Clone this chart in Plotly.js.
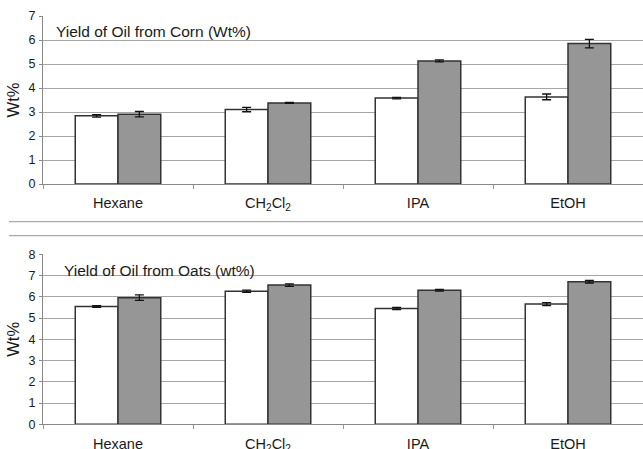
<!DOCTYPE html>
<html>
<head>
<meta charset="utf-8">
<script src="https://cdn.plot.ly/plotly-3.0.1.min.js"></script>
<style>
  html, body { margin: 0; padding: 0; background: #fff; }
  #chart { width: 643px; height: 449px; }
</style>
</head>
<body>
<div id="chart"></div>
<script>
// Solvents used for extraction
const solvents = ["Hexane", "CH<sub>2</sub>Cl<sub>2</sub>", "IPA", "EtOH"];

// Corn: oil yield (wt%) for the two extraction conditions, with error
const cornWhite = [2.84, 3.10, 3.58, 3.63];
const cornWhiteErr = [0.05, 0.09, 0.03, 0.12];
const cornGray = [2.91, 3.38, 5.13, 5.85];
const cornGrayErr = [0.11, 0.02, 0.04, 0.18];

// Oats: oil yield (wt%) for the two extraction conditions, with error
const oatsWhite = [5.54, 6.26, 5.45, 5.66];
const oatsWhiteErr = [0.04, 0.05, 0.05, 0.07];
const oatsGray = [5.96, 6.55, 6.31, 6.71];
const oatsGrayErr = [0.13, 0.06, 0.04, 0.06];

const cornTicks = [0, 1, 2, 3, 4, 5, 6, 7];
const oatsTicks = [0, 1, 2, 3, 4, 5, 6, 7, 8];

const W = 643, H = 449;
const FONT = "Liberation Sans, Arial, sans-serif";
const TEXT = "#1a1a1a";
const GRID = "#a6a6a6";
const EDGE = "#333333";

function bars(y, err, fill, xa, ya) {
  return {
    type: "bar",
    x: solvents,
    y: y,
    xaxis: xa,
    yaxis: ya,
    marker: { color: fill, line: { color: EDGE, width: 1.5 } },
    error_y: { type: "data", array: err, visible: true, color: "#111", thickness: 1.3, width: 4.5 },
    hoverinfo: "skip",
    showlegend: false
  };
}

const traces = [
  bars(cornWhite, cornWhiteErr, "#ffffff", "x", "y"),
  bars(cornGray, cornGrayErr, "#969696", "x", "y"),
  bars(oatsWhite, oatsWhiteErr, "#ffffff", "x2", "y2"),
  bars(oatsGray, oatsGrayErr, "#969696", "x2", "y2")
];

const xLeft = 43 / W;
function py(px) { return 1 - px / H; }

function xAxis(anchor) {
  return {
    domain: [xLeft, 1],
    anchor: anchor,
    type: "category",
    range: [-0.5, 3.5],
    showline: true,
    linecolor: "#888",
    linewidth: 1,
    ticks: "outside",
    tickson: "boundaries",
    ticklen: 4,
    tickcolor: "#999",
    ticklabelstandoff: 6,
    showgrid: false,
    tickfont: { family: FONT, size: 14.5, color: TEXT },
    fixedrange: true
  };
}

function yAxis(anchor, domain, ticks) {
  return {
    domain: domain,
    anchor: anchor,
    range: [0, ticks[ticks.length - 1]],
    tickvals: ticks,
    showline: true,
    linecolor: "#888",
    linewidth: 1,
    ticks: "outside",
    ticklen: 3,
    tickcolor: "#888",
    ticklabelstandoff: 1,
    showgrid: true,
    gridcolor: GRID,
    gridwidth: 1,
    zeroline: false,
    tickfont: { family: FONT, size: 12.5, color: TEXT },
    title: { text: "Wt%", font: { family: FONT, size: 16.5, color: TEXT }, standoff: 4 },
    fixedrange: true
  };
}

const layout = {
  width: W,
  height: H,
  margin: { l: 0, r: 0, t: 0, b: 0 },
  paper_bgcolor: "#fff",
  plot_bgcolor: "#fff",
  barmode: "group",
  bargap: 0.43,
  bargroupgap: 0,
  xaxis: xAxis("y"),
  yaxis: yAxis("x", [py(184), py(16)], cornTicks),
  xaxis2: xAxis("y2"),
  yaxis2: yAxis("x2", [py(424.3), py(254.3)], oatsTicks),
  annotations: [
    { text: "Yield of Oil from Corn (Wt%)", xref: "paper", yref: "paper",
      x: 54 / W, y: py(31.5), xanchor: "left", yanchor: "middle", showarrow: false,
      font: { family: FONT, size: 15.5, color: TEXT } },
    { text: "Yield of Oil from Oats (wt%)", xref: "paper", yref: "paper",
      x: 62 / W, y: py(270), xanchor: "left", yanchor: "middle", showarrow: false,
      font: { family: FONT, size: 15.5, color: TEXT } }
  ],
  shapes: [
    { type: "line", xref: "paper", yref: "paper", x0: 9 / W, x1: 1, y0: py(221.7), y1: py(221.7),
      line: { color: "#aaa", width: 1.2 } },
    { type: "line", xref: "paper", yref: "paper", x0: 9 / W, x1: 1, y0: py(235.7), y1: py(235.7),
      line: { color: "#aaa", width: 1.2 } }
  ]
};

Plotly.newPlot("chart", traces, layout, { staticPlot: true, displayModeBar: false });
</script>
</body>
</html>
